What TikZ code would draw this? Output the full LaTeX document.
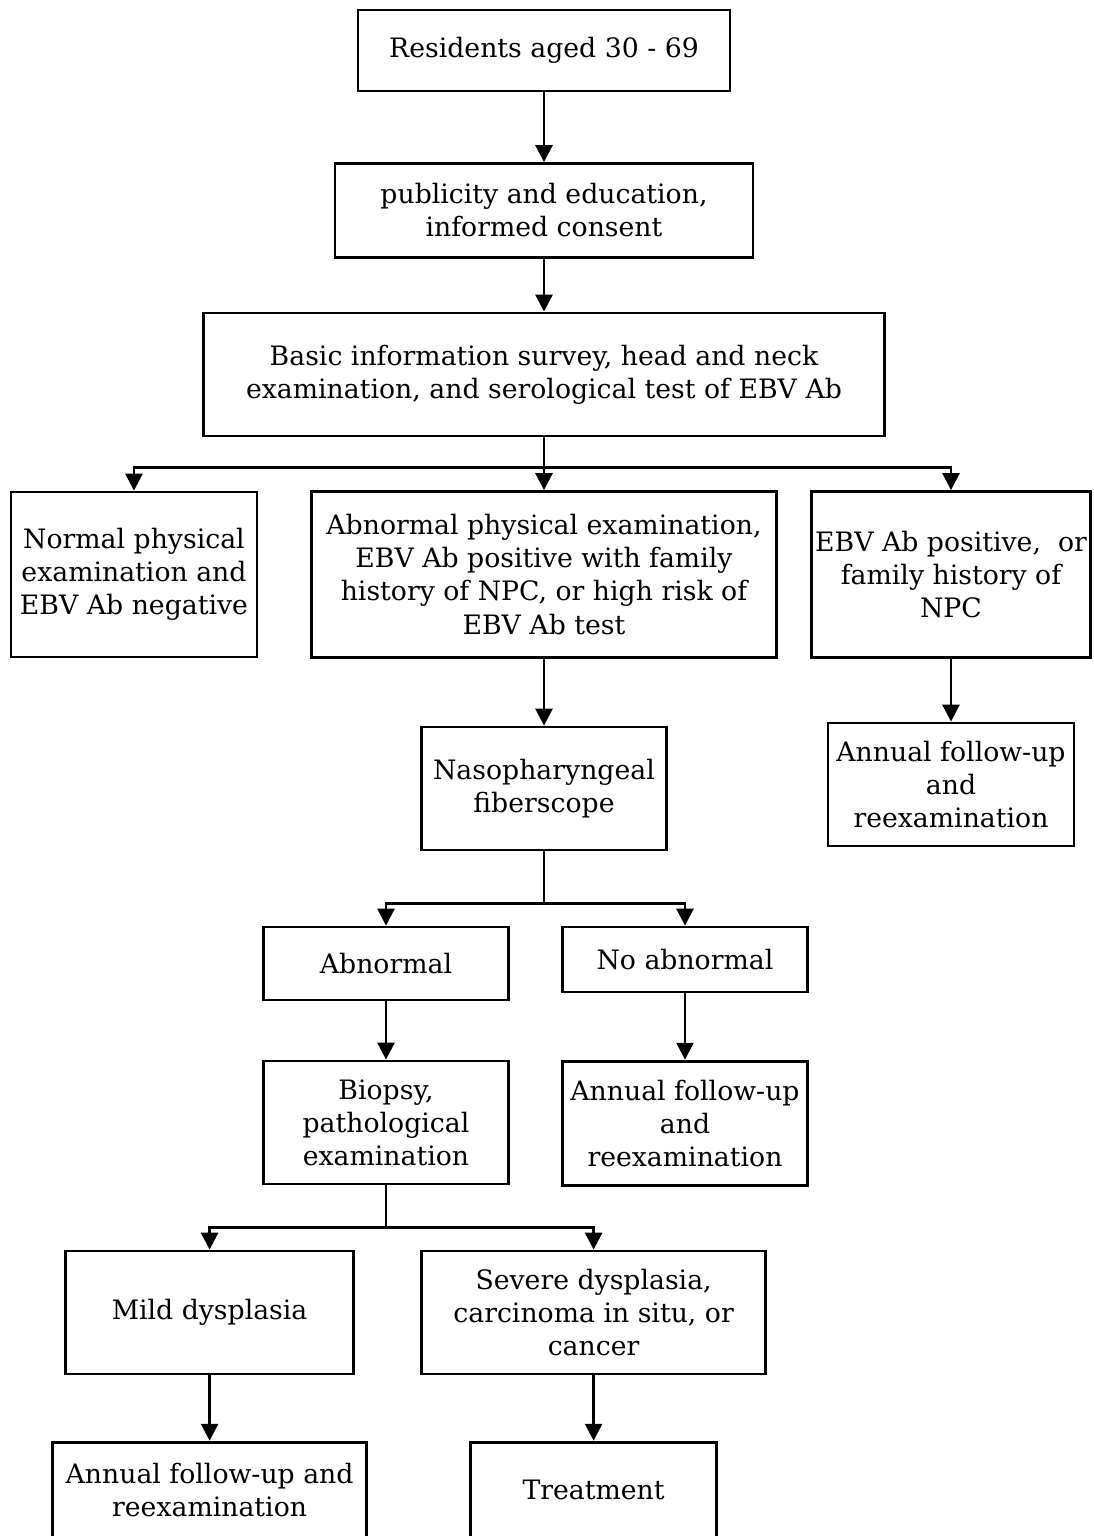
\documentclass[tikz,border=0pt]{standalone}
\usepackage{fontspec}
\setmainfont{DejaVu Serif}
\usepackage{tikz}
\usetikzlibrary{shapes.geometric, arrows.meta}
\tikzstyle{box} = [rectangle, draw=black, line width=2pt, inner sep=0pt, align=center, font=\fontsize{19}{23.5}\selectfont]
\tikzstyle{arrow} = [line width=2pt, -{Triangle[width=12pt,length=12pt]}]
\tikzstyle{line} = [line width=2pt]

\begin{document}
\begin{tikzpicture}[node distance=1cm]
        \useasboundingbox (-13.6,1.2625) rectangle (13.725,-37.1375);

        \node (start) [box, minimum width=9.3cm, minimum height=2.025cm] {Residents aged 30 - 69};
        \node (publicity) [box, below of=start, yshift=-3cm, minimum width=10.45cm, minimum height=2.35cm] {publicity and education,\\ informed consent};
        \node (basic) [box, below of=publicity, yshift=-3.1cm, minimum width=17.025cm, minimum height=3.075cm] {Basic information survey, head and neck\\ examination, and serological test of EBV Ab};
        \node (abnormexam) [box, below of=basic, yshift=-4cm, minimum width=11.625cm, minimum height=4.15cm] {Abnormal physical examination,\\ EBV Ab positive with family\\ history of NPC, or high risk of\\ EBV Ab test};
        \node (normalexam) [box, left of=abnormexam, xshift=-9.25cm, minimum width=6.15cm, minimum height=4.125cm] {Normal physical\\ examination and\\ EBV Ab negative};
        \node (positive) [box, right of=abnormexam, xshift=9.175cm, minimum width=6.975cm, minimum height=4.15cm] {EBV Ab positive,~ or\\ family history of\\ NPC};
        \node (followupA) [box, below of=positive, yshift=-4.25cm, minimum width=6.15cm, minimum height=3.075cm] {Annual follow-up\\ and\\ reexamination};
        \node (fiberscope) [box, below of=abnormexam, yshift=-4.35cm, minimum width=6.125cm, minimum height=3.075cm] {Nasopharyngeal\\ fiberscope};
        \node (abnormal) [box, below of=fiberscope, xshift=-3.95cm, yshift=-3.375cm, minimum width=6.125cm, minimum height=1.825cm] {Abnormal};
        \node (noabnormal) [box, right of=abnormal, xshift=6.475cm, yshift=0.1cm, minimum width=6.125cm, minimum height=1.625cm] {No abnormal};
        \node (biopsy) [box, below of=abnormal, yshift=-2.975cm, minimum width=6.125cm, minimum height=3.075cm] {Biopsy,\\ pathological\\ examination};
        \node (followupB) [box, below of=noabnormal, yshift=-3.09cm, minimum width=6.125cm, minimum height=3.1cm] {Annual follow-up\\ and\\ reexamination};
        \node (mild) [box, below of=biopsy, xshift=-4.41cm, yshift=-3.75cm, minimum width=7.2cm, minimum height=3.075cm] {Mild dysplasia};
        \node (severe) [box, below of=biopsy, xshift=5.19cm, yshift=-3.75cm, minimum width=8.6cm, minimum height=3.075cm] {Severe dysplasia,\\ carcinoma in situ, or\\ cancer};
        \node (followupC) [box, below of=mild, yshift=-3.44cm, minimum width=7.85cm, minimum height=2.4cm] {Annual follow-up and\\ reexamination};
        \node (treatment) [box, below of=severe, yshift=-3.44cm, minimum width=6.15cm, minimum height=2.4cm] {Treatment};

        \draw [arrow] (start) -- (publicity);
        \draw [arrow] (publicity) -- (basic);
        \draw [arrow] (basic) -- (abnormexam);
        \draw [arrow] (basic.south) -- ++(0,-0.75) -| (normalexam);
        \draw [arrow] (basic.south) -- ++(0,-0.75) -| (positive);
        \draw [arrow] (abnormexam) -- (fiberscope);
        \draw [arrow] (positive) -- (followupA);
        \draw [arrow] (fiberscope.south) -- ++(0,-1.3) -| (abnormal);
        \draw [arrow] (fiberscope.south) -- ++(0,-1.3) -| (noabnormal);
        \draw [arrow] (abnormal) -- (biopsy);
        \draw [arrow] (noabnormal) -- (followupB);
        \draw [arrow] (biopsy.south) -- ++(0,-1.05) -| (mild);
        \draw [arrow] (biopsy.south) -- ++(0,-1.05) -| (severe);
        \draw [arrow] (mild) -- (followupC);
        \draw [arrow] (severe) -- (treatment);

\end{tikzpicture}
\end{document}
